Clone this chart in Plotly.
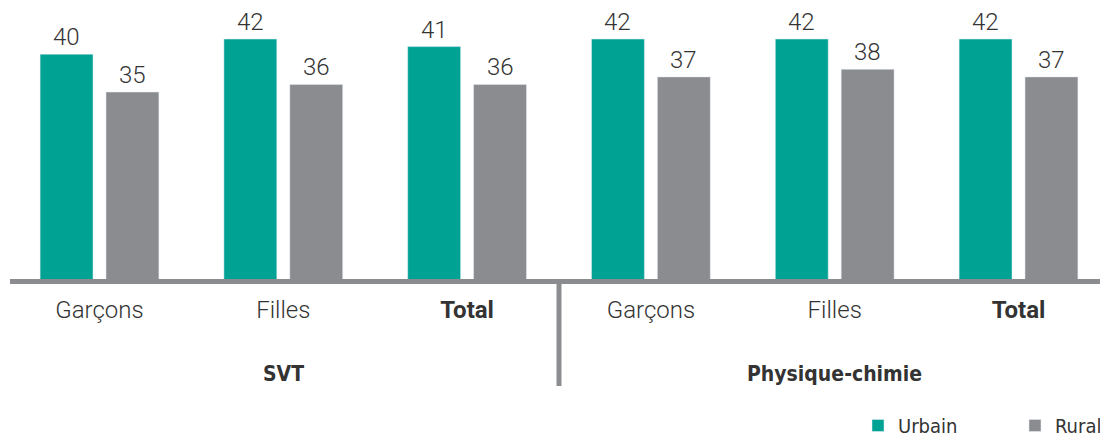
import plotly.graph_objects as go

categories = ["Garçons", "Filles", "<b>Total</b>", "Garçons", "Filles", "<b>Total</b>"]
groups = ["SVT", "Physique-chimie"]
urbain = [40, 42, 41, 42, 42, 42]
rural = [35, 36, 36, 37, 38, 37]

TEAL = "#00A294"
GRAY = "#8B8C8F"
TXT = "#333333"
NARROW = "Liberation Sans Narrow, DejaVu Sans Condensed, Arial Narrow, sans-serif"
LIGHT = "Roboto, Helvetica, Arial, sans-serif"

xs = list(range(len(categories)))

fig = go.Figure()
fig.add_trace(go.Bar(x=xs, y=urbain, name="Urbain", marker_color=TEAL))
fig.add_trace(go.Bar(x=xs, y=rural, name="Rural", marker_color=GRAY))

# page has an 8px body margin: figure drawn at (8, 8)
W, H = 1100, 437
ph = 271  # plot bottom in figure pixels (page 279)

fig.update_layout(
    width=W, height=H,
    margin=dict(l=0, r=0, t=0, b=H - ph, autoexpand=False),
    plot_bgcolor="white", paper_bgcolor="white",
    barmode="group", bargap=0.283, bargroupgap=0.197,
    showlegend=True,
    legend=dict(orientation="h", xref="container", yref="container",
                x=850 / W, xanchor="left", y=0, yanchor="bottom",
                font=dict(family=NARROW, size=20, color=TXT), traceorder="normal",
                itemwidth=30, entrywidth=112, entrywidthmode="pixels"),
    xaxis=dict(range=[-91.5 / 183.8, (W - 91.5) / 183.8], tickvals=xs, ticktext=categories,
               showgrid=False, zeroline=False, showline=False, ticks="",
               tickfont=dict(family=LIGHT, size=24, color=TXT, weight=300),
               ticklabelstandoff=14),
    yaxis=dict(range=[10.3, 10.3 + ph / 7.57], visible=False, showgrid=False),
)

# value labels
for vals, dx in ((urbain, -33), (rural, 33)):
    for x, v in zip(xs, vals):
        fig.add_annotation(x=x, y=v, xref="x", yref="y", text=str(v), showarrow=False,
                           xshift=dx, yanchor="bottom", yshift=1,
                           font=dict(family=LIGHT, size=24, color=TXT, weight=300))

# baseline
fig.add_shape(type="line", xref="paper", yref="paper", x0=2 / W, x1=1,
              y0=-2.5 / ph, y1=-2.5 / ph, line=dict(color=GRAY, width=5))
# separator between groups
fig.add_shape(type="line", xref="x", yref="paper", x0=2.5, x1=2.5,
              y0=-5 / ph, y1=-107 / ph, line=dict(color=GRAY, width=5))

for gx, g in zip([1, 4], groups):
    fig.add_annotation(x=gx, xref="x", y=-95 / ph, yref="paper",
                       text=f"<b>{g}</b>", showarrow=False, yanchor="middle",
                       font=dict(family=NARROW, size=21, color=TXT))

fig.write_html("out.html")
